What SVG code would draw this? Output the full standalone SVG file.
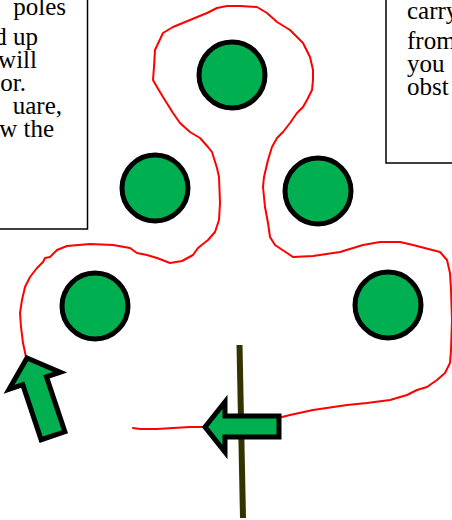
<svg xmlns="http://www.w3.org/2000/svg" width="452" height="520" viewBox="0 0 452 520">
<style>
.box{fill:#fff;stroke:#000;stroke-width:1.5}
.t{font-family:"Liberation Serif","Times New Roman",serif;font-size:25px;fill:#000}
.pole{fill:#00B050;stroke:#000;stroke-width:5}
.arrow{fill:#00B050;stroke:#000;stroke-width:5;stroke-linejoin:miter}
.path{fill:none;stroke:#FF0000;stroke-width:2;stroke-linejoin:round;stroke-linecap:round}
</style>
<rect width="452" height="520" fill="#fff"/>
<g id="note-left">
<rect class="box" x="-200" y="-20" width="287.5" height="249"/>
<text class="t" text-anchor="end" x="66" y="15">poles</text>
<text class="t" text-anchor="end" x="38" y="45">d up</text>
<text class="t" text-anchor="end" x="37" y="68">will</text>
<text class="t" text-anchor="end" x="26" y="91">or.</text>
<text class="t" text-anchor="end" x="62" y="114">uare,</text>
<text class="t" text-anchor="end" x="54" y="137">w the</text>
</g>
<g id="note-right">
<rect class="box" x="386" y="-20" width="200" height="183"/>
<text class="t" x="407" y="19">carry</text>
<text class="t" x="407" y="49">from</text>
<text class="t" x="407" y="72">you</text>
<text class="t" x="407" y="95">obst</text>
</g>
<g id="connectors">
<polyline class="path" points="133,428 140,429 157,429 173,428 190,427 205,427 282,417 290,415 313,410 347,405 367,403 390,400 407,395 417,390 427,387 437,380 445,373 450,363 451,350 452,320 451,290 450,273 447,260 440,252 413,245 400,242 380,242 363,245 340,252 313,256 293,257 287,253 275,245 270,237 268,223 265,207 263,187 264,177 268,160 272,147 277,138 283,132 290,123 297,113 303,107 307,100 312,90 313,80 313,70 310,57 303,43 290,30 277,22 267,13 257,7 240,6 227,6 217,8 207,13 190,20 173,27 163,33 155,50 154,67 153,80 157,87 163,97 168,105 173,113 180,123 190,132 200,138 208,147 212,152 217,168 219,177 220,203 219,220 215,232 208,240 198,248 193,255 182,261 170,263 157,258 147,255 137,253 130,248 113,245 90,244 67,246 57,250 50,257 45,258 43,262 37,268 30,277 25,287 22,300 20,313 21,327 23,343 26,357"/>
</g>
<g id="pole-top"><circle class="pole" cx="232" cy="75" r="33"/></g>
<g id="pole-mid-left"><circle class="pole" cx="155" cy="188" r="33"/></g>
<g id="pole-mid-right"><circle class="pole" cx="318" cy="191" r="33"/></g>
<g id="pole-bottom-left"><circle class="pole" cx="95" cy="306" r="33"/></g>
<g id="pole-bottom-right"><circle class="pole" cx="388" cy="305" r="33"/></g>
<g id="gate-post"><line x1="239.5" y1="345" x2="243" y2="518" stroke="#333300" stroke-width="6"/></g>
<g id="arrow-start"><polygon class="arrow" points="205,427 225,402 225,416 279,416 279,437 225,437 225,452"/></g>
<g id="arrow-end"><polygon class="arrow" transform="translate(27,358) rotate(-18.5)" points="0,0 27,24 12.5,24 12.5,82 -12.5,82 -12.5,24 -27,24"/></g>
</svg>
